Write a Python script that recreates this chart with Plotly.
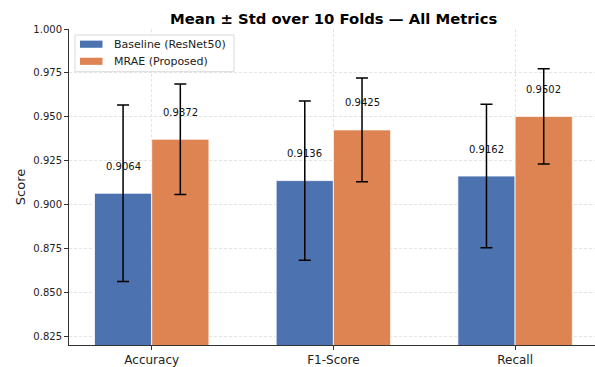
import plotly.graph_objects as go

# ---- data ----
metrics = ["Accuracy", "F1-Score", "Recall"]
baseline_name = "Baseline (ResNet50)"
mrae_name = "MRAE (Proposed)"
baseline_mean = [0.9064, 0.9136, 0.9162]
baseline_std = [0.0503, 0.0454, 0.0409]
mrae_mean = [0.9372, 0.9425, 0.9502]
mrae_std = [0.0315, 0.0296, 0.0272]
y_ticks = [0.825, 0.850, 0.875, 0.900, 0.925, 0.950, 0.975, 1.000]

# ---- layout constants ----
W, H = 595, 367
ML, MR, MT, MB = 69, 0, 29, 20
PW, PH = W - ML - MR, H - MT - MB
BAR_W = 0.315
BLUE = "#4C72B0"
ORANGE = "#DD8452"
FONT = "DejaVu Sans"
GRID = "#e4e4e4"


def px_x(px):
    return (px - ML) / PW


def px_y(py):
    return (H - MB - py) / PH


fig = go.Figure()
fig.add_trace(go.Bar(
    x=metrics, y=baseline_mean, name=baseline_name,
    width=BAR_W, offset=-BAR_W,
    marker=dict(color=BLUE, line=dict(color="white", width=0.8)),
    error_y=dict(type="data", array=baseline_std, visible=True,
                 color="black", thickness=1.5, width=6),
    showlegend=False,
))
fig.add_trace(go.Bar(
    x=metrics, y=mrae_mean, name=mrae_name,
    width=BAR_W, offset=0,
    marker=dict(color=ORANGE, line=dict(color="white", width=0.8)),
    error_y=dict(type="data", array=mrae_std, visible=True,
                 color="black", thickness=1.5, width=6),
    showlegend=False,
))

annotations = []
for i, (b, m) in enumerate(zip(baseline_mean, mrae_mean)):
    annotations.append(dict(x=i - BAR_W / 2, y=b + 0.0154, xref="x", yref="y",
                            text=f"{b:.4f}", showarrow=False,
                            font=dict(family=FONT, size=10, color="#111"),
                            xanchor="center", yanchor="middle"))
    annotations.append(dict(x=i + BAR_W / 2, y=m + 0.0154, xref="x", yref="y",
                            text=f"{m:.4f}", showarrow=False,
                            font=dict(family=FONT, size=10, color="#111"),
                            xanchor="center", yanchor="middle"))

# title
annotations.append(dict(x=px_x(333.5), y=px_y(18.5), xref="paper", yref="paper",
                        text="<b>Mean ± Std over 10 Folds — All Metrics</b>",
                        showarrow=False, font=dict(family=FONT, size=14.8, color="black"),
                        xanchor="center", yanchor="middle"))

# legend (manual)
shapes = [dict(type="rect", xref="paper", yref="paper",
               x0=px_x(75), x1=px_x(234), y0=px_y(72), y1=px_y(35),
               line=dict(color="#d9d9d9", width=1), fillcolor="rgba(255,255,255,0.85)",
               layer="above")]
for name, col, cy in [(baseline_name, BLUE, 44.3), (mrae_name, ORANGE, 61.5)]:
    shapes.append(dict(type="rect", xref="paper", yref="paper",
                       x0=px_x(80), x1=px_x(102.5), y0=px_y(cy + 3.6), y1=px_y(cy - 3.6),
                       line=dict(width=0), fillcolor=col, layer="above"))
    annotations.append(dict(x=px_x(111.5), y=px_y(cy), xref="paper", yref="paper",
                            text=name, showarrow=False,
                            font=dict(family=FONT, size=11, color="#222"),
                            xanchor="left", yanchor="middle"))

fig.update_layout(
    width=W, height=H,
    margin=dict(l=ML, r=MR, t=MT, b=MB, pad=0),
    paper_bgcolor="white", plot_bgcolor="white",
    barmode="group",
    font=dict(family=FONT, color="#222"),
    annotations=annotations,
    shapes=shapes,
    xaxis=dict(
        type="category",
        range=[(ML - 151.7) / 181.7, (W - 151.7) / 181.7],
        showline=True, linecolor="#333", linewidth=1,
        ticks="outside", ticklen=4, tickcolor="#333",
        tickfont=dict(family=FONT, size=12, color="#222"),
        showgrid=True, gridcolor=GRID, griddash="3px,2px", gridwidth=0.8,
        zeroline=False,
    ),
    yaxis=dict(
        range=[0.8199, 1.0],
        tickvals=y_ticks, tickformat=".3f",
        showline=True, linecolor="#333", linewidth=1,
        ticks="outside", ticklen=4, tickcolor="#333",
        tickfont=dict(family=FONT, size=10, color="#222"),
        showgrid=True, gridcolor=GRID, griddash="3px,2px", gridwidth=0.8,
        zeroline=False,
        title=dict(text="Score", font=dict(family=FONT, size=13, color="#222"), standoff=4),
    ),
)

fig.write_html("out.html")
